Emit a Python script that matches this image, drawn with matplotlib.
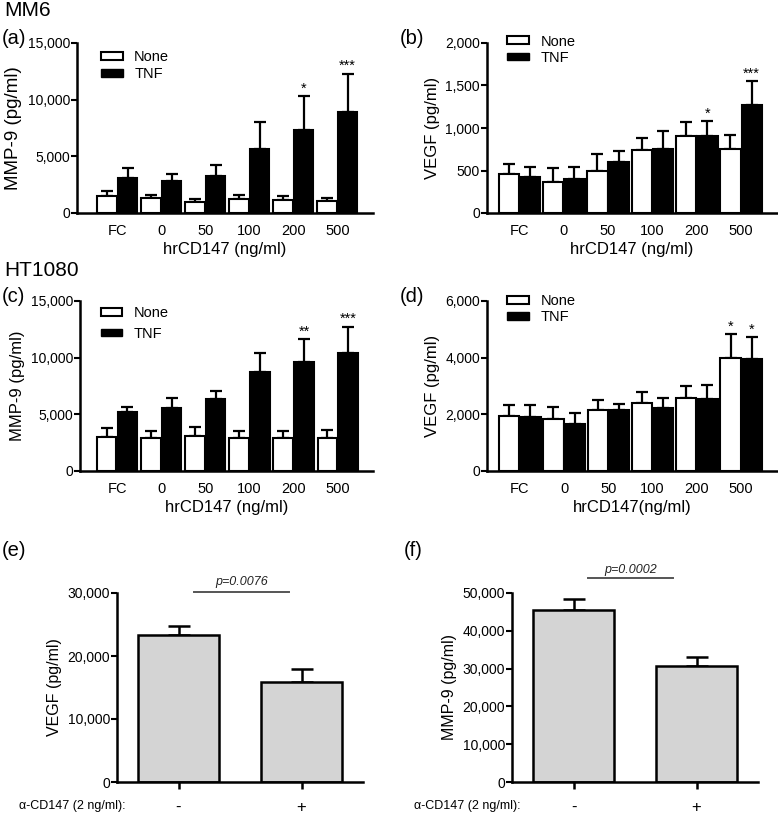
import numpy as np
import matplotlib
matplotlib.use("Agg")
import matplotlib.pyplot as plt
from matplotlib.patches import Patch
from matplotlib.ticker import FuncFormatter

plt.rcParams['font.family'] = ['Liberation Sans', 'DejaVu Sans']

W, H = 778, 817

# hrCD147 doses
cats = ["FC", "0", "50", "100", "200", "500"]

# (a) MM6 MMP-9
a_none = [1470, 1320, 940, 1240, 1180, 1030]
a_none_err = [440, 300, 320, 320, 350, 290]
a_tnf = [3090, 2800, 3290, 5650, 7350, 8940]
a_tnf_err = [880, 670, 970, 2350, 2940, 3350]
a_none_stars = ["", "", "", "", "", ""]
a_tnf_stars = ["", "", "", "", "*", "***"]

# (b) MM6 VEGF
b_none = [463, 361, 498, 737, 910, 757]
b_none_err = [113, 168, 200, 145, 157, 157]
b_tnf = [420, 404, 604, 753, 902, 1266]
b_tnf_err = [117, 133, 129, 215, 176, 283]
b_none_stars = ["", "", "", "", "", ""]
b_tnf_stars = ["", "", "", "", "*", "***"]

# (c) HT1080 MMP-9
c_none = [2970, 2880, 3090, 2880, 2880, 2940]
c_none_err = [850, 650, 760, 650, 680, 710]
c_tnf = [5170, 5590, 6380, 8700, 9590, 10410]
c_tnf_err = [500, 880, 680, 1680, 2020, 2320]
c_none_stars = ["", "", "", "", "", ""]
c_tnf_stars = ["", "", "", "", "**", "***"]

# (d) HT1080 VEGF
d_none = [1940, 1850, 2160, 2410, 2590, 4000]
d_none_err = [380, 400, 330, 380, 410, 830]
d_tnf = [1890, 1660, 2160, 2240, 2530, 3950]
d_tnf_err = [430, 370, 200, 350, 500, 770]
d_none_stars = ["", "", "", "", "", "*"]
d_tnf_stars = ["", "", "", "", "", "*"]

# (e), (f) anti-CD147
ef_cats = ["-", "+"]
e_vals = [23360, 15930]
e_err = [1420, 1970]
f_vals = [45580, 30710]
f_err = [2920, 2300]


def px_axes(fig, left, top, right, bottom):
    return fig.add_axes([left / W, 1 - bottom / H, (right - left) / W, (bottom - top) / H])


comma = FuncFormatter(lambda v, p: "{:,.0f}".format(v))


def style(ax, yticks):
    for s in ["top", "right"]:
        ax.spines[s].set_visible(False)
    for s in ["left", "bottom"]:
        ax.spines[s].set_linewidth(1.8)
    ax.set_yticks(yticks)
    ax.set_ylim(0, yticks[-1])
    ax.yaxis.set_major_formatter(comma)
    ax.tick_params(axis="y", length=4, width=1.5, labelsize=10, pad=1)


def grouped(ax, none, none_err, tnf, tnf_err, none_st, tnf_st, yticks, xl, w, gap,
            ylabel, xlabel, ylsize, leg_xy, leg_space):
    x = np.arange(len(cats))
    xn = x - w / 2 - gap / 2
    xt = x + w / 2 + gap / 2
    ax.bar(xn, none, w, color="white", edgecolor="black", linewidth=1.5, zorder=2)
    ax.bar(xt, tnf, w, color="black", edgecolor="black", linewidth=1.5, zorder=2)
    z = np.zeros(len(cats))
    ax.errorbar(xn, none, yerr=[z, none_err], fmt="none", ecolor="black",
                elinewidth=1.6, capsize=4.5, capthick=1.6, zorder=1)
    ax.errorbar(xt, tnf, yerr=[z, tnf_err], fmt="none", ecolor="black",
                elinewidth=1.6, capsize=4.5, capthick=1.6, zorder=1)
    top = yticks[-1]
    for xs, v, e, st in zip(np.concatenate([xn, xt]), none + tnf, none_err + tnf_err,
                            none_st + tnf_st):
        if st:
            ax.text(xs, v + e + top * 0.005, st, ha="center", va="bottom", fontsize=10.5)
    style(ax, yticks)
    ax.set_xlim(*xl)
    ax.set_xticks(x)
    ax.set_xticklabels(cats, fontsize=10.5)
    ax.tick_params(axis="x", length=0, pad=8)
    ax.set_ylabel(ylabel, fontsize=ylsize, labelpad=4)
    ax.set_xlabel(xlabel, fontsize=12, labelpad=3)
    handles = [Patch(facecolor="white", edgecolor="black", linewidth=1.5),
               Patch(facecolor="black", edgecolor="black")]
    ax.legend(handles, ["None", "TNF"], loc="upper left", bbox_to_anchor=leg_xy,
              frameon=False, fontsize=10.5, handlelength=1.5, handleheight=0.45,
              handletextpad=0.8, labelspacing=leg_space, borderpad=0, borderaxespad=0)


def simple(ax, vals, err, yticks, ylabel, ptxt, p_x, p_y, txt_y):
    x = np.arange(len(vals))
    ax.bar(x, vals, 0.66, color="#d4d4d4", edgecolor="black", linewidth=1.8, zorder=2)
    ax.errorbar(x, vals, yerr=[np.zeros(len(vals)), err], fmt="none", ecolor="black",
                elinewidth=1.8, capsize=8, capthick=1.8, zorder=1)
    style(ax, yticks)
    ax.set_xlim(-0.5, 1.5)
    ax.set_xticks(x)
    ax.set_xticklabels(ef_cats, fontsize=12)
    ax.tick_params(axis="x", length=5, width=1.8, pad=8)
    ax.set_ylabel(ylabel, fontsize=11.5, labelpad=4)
    ax.plot(p_x, [p_y, p_y], color="#555555", lw=1.4, clip_on=False)
    ax.text(np.mean(p_x), txt_y, ptxt, ha="center", va="center", fontsize=9,
            style="italic", color="#222222")
    ax.text(-0.5 - 0.8, -0.125 * yticks[-1], "\u03b1-CD147 (2 ng/ml):", ha="left",
            va="center", fontsize=9, transform=ax.transData)


fig = plt.figure(figsize=(W / 100, H / 100), dpi=100)

ax_a = px_axes(fig, 77, 43, 373, 213)
grouped(ax_a, a_none, a_none_err, a_tnf, a_tnf_err, a_none_stars, a_tnf_stars,
        [0, 5000, 10000, 15000], (-0.92, 5.81), 0.44, 0.03,
        "MMP-9 (pg/ml)", "hrCD147 (ng/ml)", 13.5, (0.08, 0.96), 0.22)

ax_b = px_axes(fig, 487, 43, 777, 213)
grouped(ax_b, b_none, b_none_err, b_tnf, b_tnf_err, b_none_stars, b_tnf_stars,
        [0, 500, 1000, 1500, 2000], (-0.73, 5.81), 0.46, 0.02,
        "VEGF (pg/ml)", "hrCD147 (ng/ml)", 12, (0.07, 1.05), 0.15)

ax_c = px_axes(fig, 80, 301, 373, 471)
grouped(ax_c, c_none, c_none_err, c_tnf, c_tnf_err, c_none_stars, c_tnf_stars,
        [0, 5000, 10000, 15000], (-0.84, 5.8), 0.44, 0.03,
        "MMP-9 (pg/ml)", "hrCD147 (ng/ml)", 12, (0.07, 0.97), 0.45)

ax_d = px_axes(fig, 487, 301, 777, 471)
grouped(ax_d, d_none, d_none_err, d_tnf, d_tnf_err, d_none_stars, d_tnf_stars,
        [0, 2000, 4000, 6000], (-0.74, 5.81), 0.46, 0.02,
        "VEGF (pg/ml)", "hrCD147(ng/ml)", 12, (0.07, 1.04), 0.15)

ax_e = px_axes(fig, 117, 593, 363, 782)
simple(ax_e, e_vals, e_err, [0, 10000, 20000, 30000], "VEGF (pg/ml)", "p=0.0076",
       [0.13, 0.9], 30100, 31700)

ax_f = px_axes(fig, 512, 593, 758, 782)
simple(ax_f, f_vals, f_err, [0, 10000, 20000, 30000, 40000, 50000], "MMP-9 (pg/ml)",
       "p=0.0002", [0.12, 0.81], 54000, 56000)


def ftext(x, y, s, size):
    fig.text(x / W, 1 - y / H, s, fontsize=size, ha="left", va="center")


ftext(4, 10, "MM6", 15)
ftext(2, 38, "(a)", 14.5)
ftext(400, 38, "(b)", 14.5)
ftext(4, 271, "HT1080", 15)
ftext(2, 297, "(c)", 14.5)
ftext(400, 297, "(d)", 14.5)
ftext(2, 551, "(e)", 14.5)
ftext(404, 551, "(f)", 14.5)

fig.savefig("out.png", dpi=100)
